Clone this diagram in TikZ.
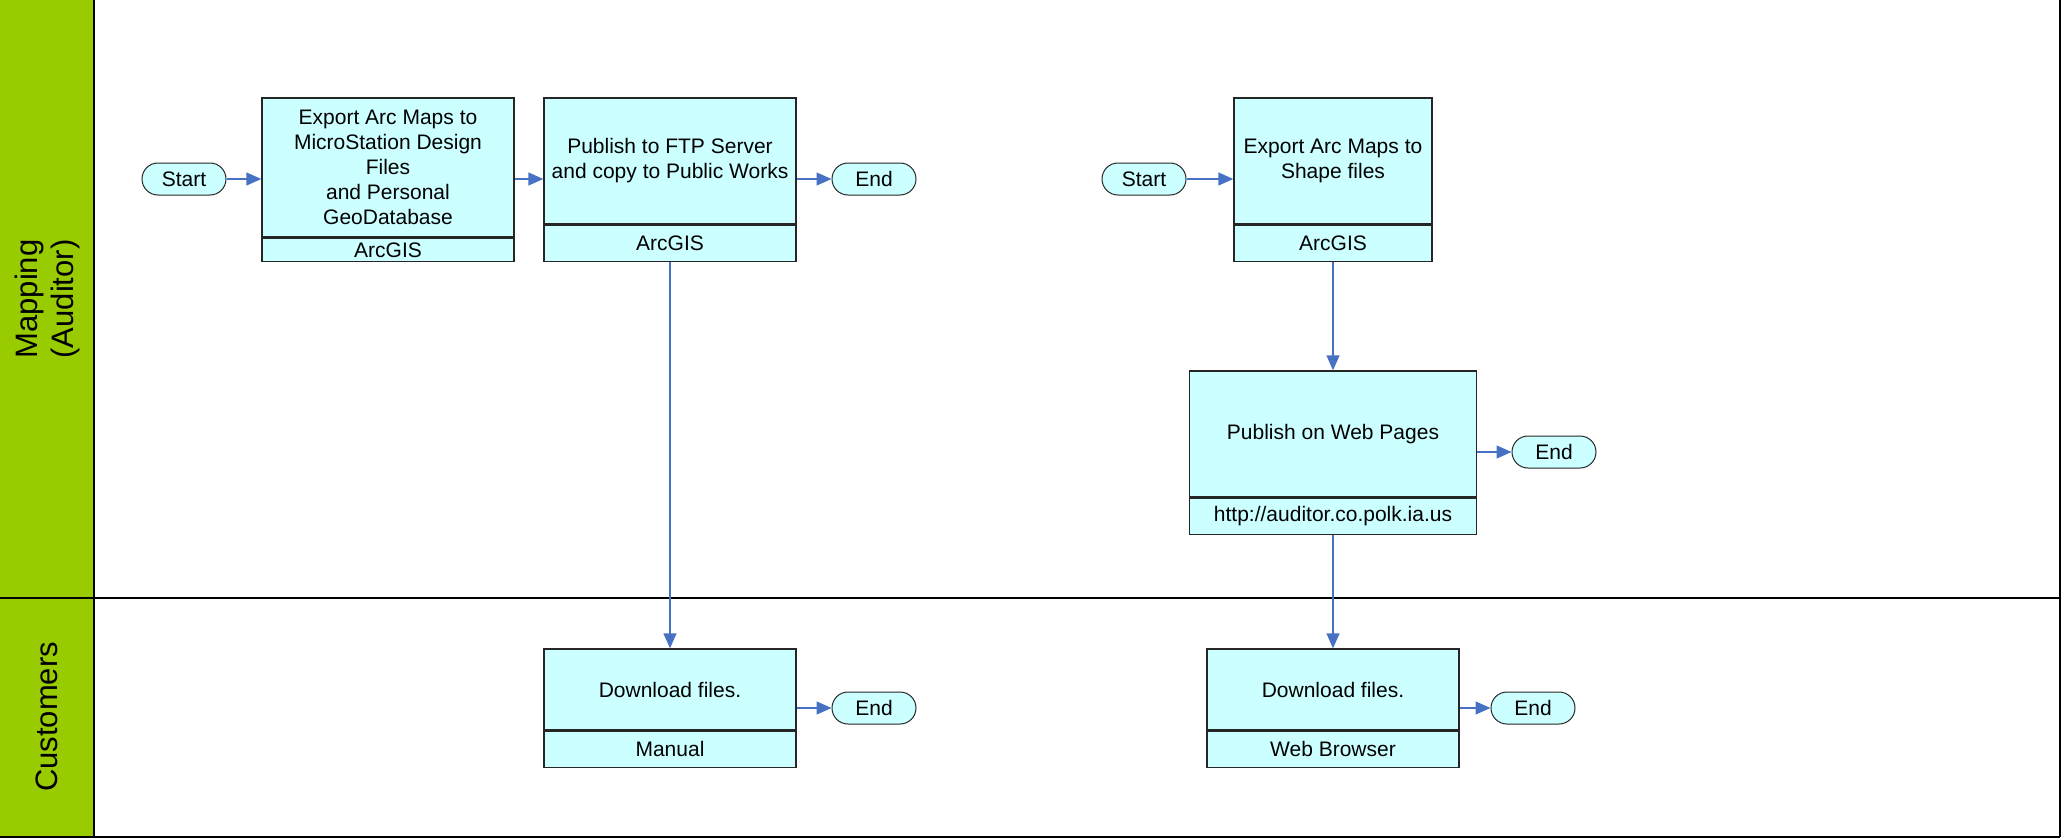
\documentclass[tikz,border=0pt]{standalone}
\usepackage{fontspec}
\setmainfont{Liberation Sans}
\usetikzlibrary{arrows.meta}
\definecolor{lanegreen}{RGB}{153,204,0}
\definecolor{boxcyan}{RGB}{204,255,255}
\definecolor{flowblue}{RGB}{71,114,196}
\begin{document}
\begin{tikzpicture}[x=1pt,y=-1pt,
  proc/.style={draw=black!85, line width=1.4pt, fill=boxcyan, inner sep=0pt, align=center, font=\fontsize{21}{25}\selectfont},
  term/.style={draw=black!85, line width=1pt, fill=boxcyan, rounded corners=16pt, minimum width=84pt, minimum height=32pt, inner sep=0pt, font=\fontsize{21}{25}\selectfont},
  flow/.style={draw=flowblue, line width=1.4pt, -{Triangle[length=15pt,width=13pt]}},
  lanelabel/.style={rotate=90, align=center, font=\fontsize{31}{36}\selectfont},
  frame/.style={draw=black, line width=1.5pt}
]
\fill[white] (0,0) rectangle (2061,840);
\useasboundingbox (0,0) rectangle (2061,840);

% swimlanes
\fill[lanegreen] (0,0) rectangle (94,837);
\draw[frame] (94,0) -- (94,837);
\draw[frame] (0,598) -- (2060,598);
\draw[frame] (0,837) -- (2060,837);
\draw[frame] (2060,0) -- (2060,837);
\node[lanelabel] (lane1) at (47,299) {Mapping\\(Auditor)};
\node[lanelabel] (lane2) at (47,717) {Customers};

% left flow
\node[term] (s1) at (184,179) {Start};
\node[proc, minimum width=252pt, minimum height=139pt] (exp1) at (388,167.5) {Export Arc Maps to\\MicroStation Design\\Files\\and Personal\\GeoDatabase};
\node[proc, minimum width=252pt, minimum height=23pt, anchor=north] (exp1t) at (exp1.south) {ArcGIS};
\node[proc, minimum width=252pt, minimum height=126pt] (ftp) at (670,161) {Publish to FTP Server\\and copy to Public Works};
\node[proc, minimum width=252pt, minimum height=36pt, anchor=north] (ftpt) at (ftp.south) {ArcGIS};
\node[term] (e1) at (874,179) {End};

\node[proc, minimum width=252pt, minimum height=81pt] (dl1) at (670,689.5) {Download files.};
\node[proc, minimum width=252pt, minimum height=36pt, anchor=north] (dl1t) at (dl1.south) {Manual};
\node[term] (e3) at (874,708) {End};

% right flow
\node[term] (s2) at (1144,179) {Start};
\node[proc, minimum width=198pt, minimum height=126pt] (shp) at (1333,161) {Export Arc Maps to\\Shape files};
\node[proc, minimum width=198pt, minimum height=36pt, anchor=north] (shpt) at (shp.south) {ArcGIS};
\node[proc, minimum width=287pt, minimum height=126pt] (web) at (1333,434) {Publish on Web Pages};
\node[proc, minimum width=287pt, minimum height=36pt, anchor=north] (webt) at (web.south) {http://auditor.co.polk.ia.us};
\node[term] (e2) at (1554,452) {End};

\node[proc, minimum width=252pt, minimum height=81pt] (dl2) at (1333,689.5) {Download files.};
\node[proc, minimum width=252pt, minimum height=36pt, anchor=north] (dl2t) at (dl2.south) {Web Browser};
\node[term] (e4) at (1533,708) {End};

% connectors
\draw[flow] (s1) -- (exp1.west |- s1);
\draw[flow] (exp1.east |- s1) -- (ftp.west |- s1);
\draw[flow] (ftp.east |- e1) -- (e1);
\draw[flow] (ftpt) -- (dl1);
\draw[flow] (dl1.east |- e3) -- (e3);

\draw[flow] (s2) -- (shp.west |- s2);
\draw[flow] (shpt) -- (web);
\draw[flow] (web.east |- e2) -- (e2);
\draw[flow] (webt) -- (dl2);
\draw[flow] (dl2.east |- e4) -- (e4);
\end{tikzpicture}
\end{document}
